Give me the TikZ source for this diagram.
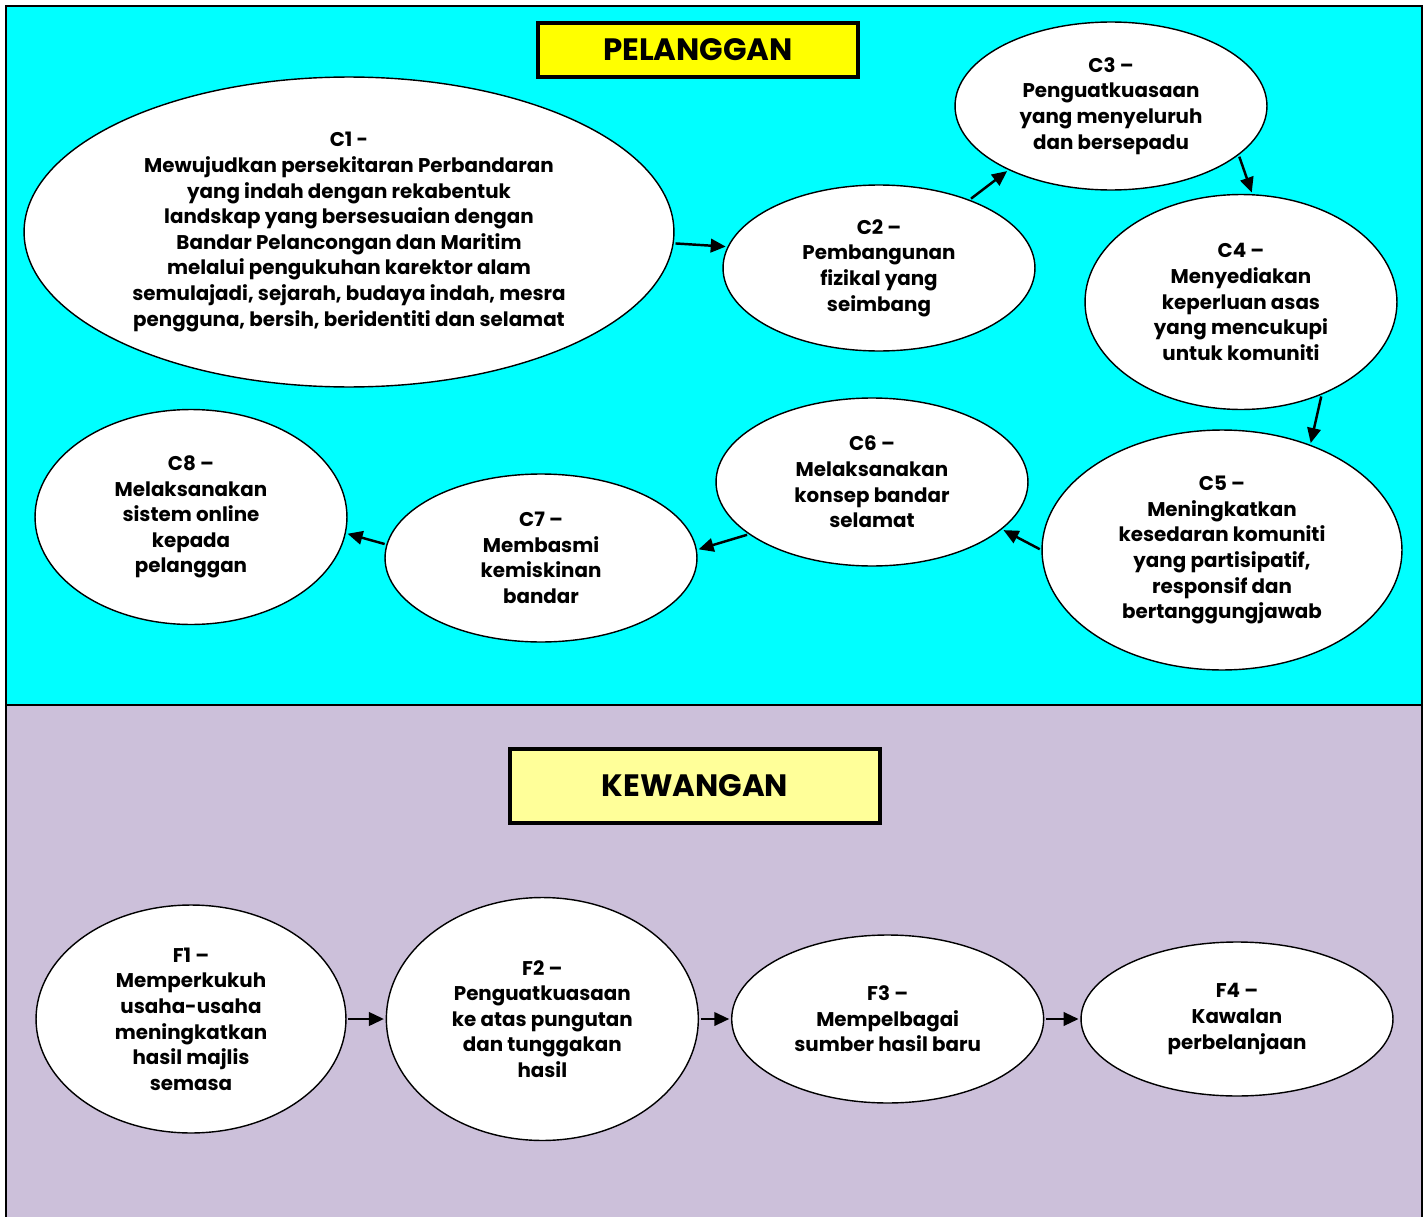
\documentclass[tikz,border=0pt]{standalone}
\usepackage{fontspec}
\setmainfont{Poppins}
\usetikzlibrary{positioning,shapes.geometric,arrows.meta}
\definecolor{pelbg}{RGB}{0,255,255}
\definecolor{kewbg}{RGB}{204,192,218}
\definecolor{titleyellow}{RGB}{255,255,0}
\definecolor{titlepale}{RGB}{255,255,153}

\begin{document}
\begin{tikzpicture}[
    x=0.02cm, y=-0.02cm,
    goal/.style = {draw, ellipse, fill=white, line width=0.8pt, inner sep=0pt, align=center, font=\bfseries\fontsize{11.3}{14.6}\selectfont},
    banner/.style = {draw, line width=2.4pt, inner sep=0pt, font=\bfseries\fontsize{17.6}{20}\selectfont},
    flow/.style = {-{Triangle[length=0.3cm, width=0.27cm]}, line width=1.4pt, shorten <=1pt, shorten >=1pt}
]
\useasboundingbox (0,0) rectangle (1428,1217);

% the two panels
\fill[pelbg] (6,6) rectangle (1422,705);
\fill[kewbg] (6,705) rectangle (1422,1225);
\draw[line width=1.1pt] (6,1225) -- (6,6) -- (1422,6) -- (1422,1225);
\draw[line width=1.1pt] (6,705) -- (1422,705);

\node[banner, fill=titleyellow, minimum width=6.4cm, minimum height=1.08cm] (pel) at (698,50) {PELANGGAN};
\node[banner, fill=titlepale, minimum width=7.4cm, minimum height=1.48cm] (kew) at (695,786) {KEWANGAN};

% pelanggan
\node[goal, minimum width=13cm, minimum height=6.2cm] (c1) at (349,232) {C1 -\\Mewujudkan persekitaran Perbandaran\\yang indah dengan rekabentuk\\landskap yang bersesuaian dengan\\Bandar Pelancongan dan Maritim\\melalui pengukuhan karektor alam\\semulajadi, sejarah, budaya indah, mesra\\pengguna, bersih, beridentiti dan selamat};
\node[goal, minimum width=6.24cm, minimum height=3.32cm] (c2) at (879,268) {C2 –\\Pembangunan\\fizikal yang\\seimbang};
\node[goal, minimum width=6.24cm, minimum height=3.36cm] (c3) at (1111,106) {C3 –\\Penguatkuasaan\\yang menyeluruh\\dan bersepadu};
\node[goal, minimum width=6.24cm, minimum height=4.3cm] (c4) at (1241,302) {C4 –\\Menyediakan\\keperluan asas\\yang mencukupi\\untuk komuniti};
\node[goal, minimum width=7.2cm, minimum height=4.8cm] (c5) at (1222,550) {C5 –\\Meningkatkan\\kesedaran komuniti\\yang partisipatif,\\responsif dan\\bertanggungjawab};
\node[goal, minimum width=6.24cm, minimum height=3.36cm] (c6) at (872,482) {C6 –\\Melaksanakan\\konsep bandar\\selamat};
\node[goal, minimum width=6.24cm, minimum height=3.36cm] (c7) at (541,558) {C7 –\\Membasmi\\kemiskinan\\bandar};
\node[goal, minimum width=6.24cm, minimum height=4.3cm] (c8) at (191,517) {C8 –\\Melaksanakan\\sistem online\\kepada\\pelanggan};

\draw[flow] (c1.-2.6) -- (c2.172);
\draw[flow] (c2.37) -- (c3.212);
\draw[flow] (c3.-21) -- (c4.84);
\draw[flow] (c4.-49) -- (c5.50);
\draw[flow] (c5.180) -- (c6.-20);
\draw[flow] (c6.203) -- (c7.3);
\draw[flow] (c7.175) -- (c8.-6);

% kewangan
\node[goal, minimum width=6.2cm, minimum height=4.56cm] (f1) at (191,1019) {F1 –\\Memperkukuh\\usaha-usaha\\meningkatkan\\hasil majlis\\semasa};
\node[goal, minimum width=6.24cm, minimum height=4.86cm, right=0.78cm of f1] (f2) {F2 –\\Penguatkuasaan\\ke atas pungutan\\dan tunggakan\\hasil};
\node[goal, minimum width=6.24cm, minimum height=3.36cm, right=0.64cm of f2] (f3) {F3 –\\Mempelbagai\\sumber hasil baru};
\node[goal, minimum width=6.24cm, minimum height=3.08cm, right=0.72cm of f3] (f4) {F4 –\\Kawalan\\perbelanjaan};

\draw[flow] (f1) -- (f2);
\draw[flow] (f2) -- (f3);
\draw[flow] (f3) -- (f4);

\end{tikzpicture}
\end{document}
